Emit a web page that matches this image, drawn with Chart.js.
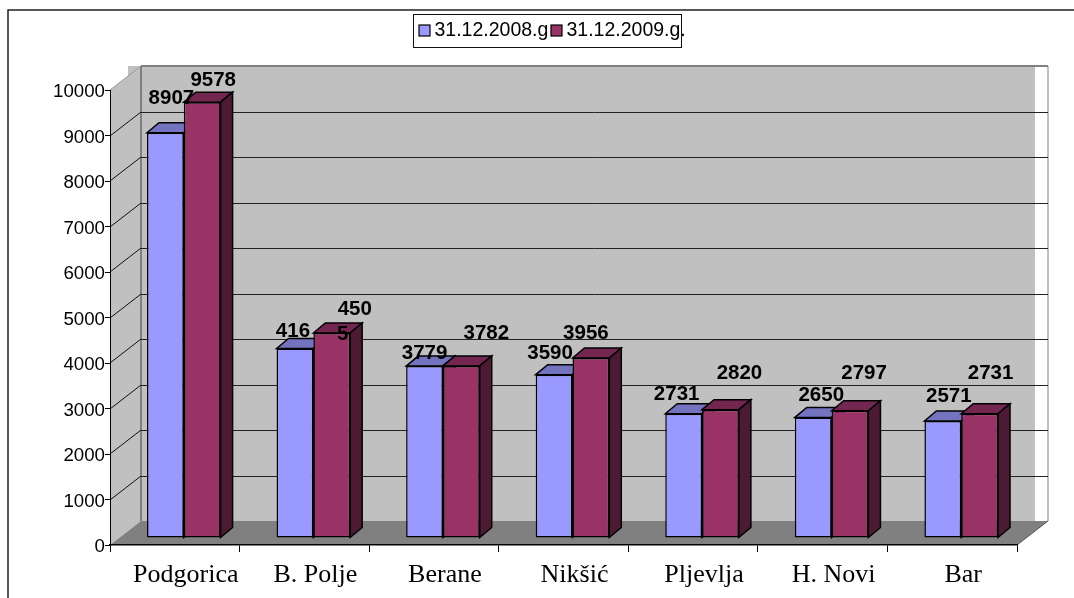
<!DOCTYPE html>
<html>
<head>
<meta charset="utf-8">
<style>
  html, body { margin: 0; padding: 0; background: #fff; }
  #wrap { position: relative; width: 1074px; height: 598px; }
  #wrap canvas { display: block; }
</style>
<script src="https://cdn.jsdelivr.net/npm/chart.js@4"></script>
</head>
<body>
<div id="wrap"><canvas id="chart"></canvas></div>
<script>
const categories = ["Podgorica", "B. Polje", "Berane", "Nikšić", "Pljevlja", "H. Novi", "Bar"];
const seriesNames = ["31.12.2008.g", "31.12.2009.g."];
const values2008 = [8907, 4165, 3779, 3590, 2731, 2650, 2571];
const values2009 = [9578, 4505, 3782, 3956, 2820, 2797, 2731];
const yTicks = [0, 1000, 2000, 3000, 4000, 5000, 6000, 7000, 8000, 9000, 10000];

// labels as they appear in the picture, some are cut or wrapped
const labels2008 = ["8907", "416", "3779", "3590", "2731", "2650", "2571"];
const labels2009 = ["9578", "450\n5", "3782", "3956", "2820", "2797", "2731"];

// the value labels sit unevenly, nudge each one from its bar top
const labelNudge = [
  { x: [6, -2, 0, -4, -7, 8, 6], y: [-34, -17, -13, -21, -19, -22, -25] },
  { x: [11, 23, 25, -5, 19, 14, 11], y: [-22, -24, -33, -25, -36, -37, -40] }
];

// 3D look
const wallDx = 31, wallDy = -24;
const barShiftX = 9, barShiftY = -7;
const barDx = 12, barDy = -10;
const sideColors = [
  { top: "#7373bf", side: "#4d4d80" },
  { top: "#732650", side: "#4d1a33" }
];

function poly(ctx, pts, fill, stroke, lw) {
  ctx.beginPath();
  pts.forEach((p, i) => (i ? ctx.lineTo(p[0], p[1]) : ctx.moveTo(p[0], p[1])));
  ctx.closePath();
  if (fill) { ctx.fillStyle = fill; ctx.fill(); }
  if (stroke) { ctx.strokeStyle = stroke; ctx.lineWidth = lw || 1; ctx.stroke(); }
}

function line(ctx, x1, y1, x2, y2, color, lw) {
  ctx.beginPath();
  ctx.moveTo(x1, y1);
  ctx.lineTo(x2, y2);
  ctx.strokeStyle = color;
  ctx.lineWidth = lw || 1;
  ctx.stroke();
}

const walls = {
  id: "walls",
  beforeDraw(chart) {
    const ctx = chart.ctx;
    const { left, right, top, bottom } = chart.chartArea;
    const y = chart.scales.y;
    const backL = left + wallDx, backR = right + wallDx;
    const backT = top + wallDy, backB = bottom + wallDy;
    ctx.save();

    // outer frame, only left and top are in the picture
    ctx.strokeStyle = "#222";
    ctx.lineWidth = 1.5;
    ctx.beginPath();
    ctx.moveTo(8, 598);
    ctx.lineTo(8, 10);
    ctx.lineTo(1074, 10);
    ctx.stroke();

    // wall fill stops short of the right edge and pokes out on the left
    ctx.fillStyle = "#c0c0c0";
    ctx.fillRect(backL - 13, backT, backR - backL, backB - backT);
    poly(ctx, [[left, top], [backL, backT], [backL, backB], [left, bottom]], "#c0c0c0");

    // wall edges
    line(ctx, left, top, backL, backT, "#999", 1);
    line(ctx, backL, backT, backR, backT, "#808080", 2);
    line(ctx, backL, backT, backL, backB, "#808080", 2);
    line(ctx, backR, backT, backR, backB, "#808080", 1);

    // gridlines on the back wall and down the side wall
    yTicks.forEach((v) => {
      if (v === 0 || v === 10000) return;
      const py = Math.round(y.getPixelForValue(v));
      line(ctx, left, py, backL, py + wallDy, "#111", 1);
      line(ctx, backL, py + wallDy + 0.5, backR, py + wallDy + 0.5, "#222", 1);
    });

    // floor
    poly(ctx, [[left, bottom], [backL, backB], [backR, backB], [right, bottom]], "#808080");
    line(ctx, right, bottom, backR, backB, "#555", 1);
    ctx.restore();
  }
};

const bars3d = {
  id: "bars3d",
  // chart.js draws the first dataset last, here the second one has to end up on top
  beforeDatasetsDraw(chart) {
    const ctx = chart.ctx;
    ctx.save();
    ctx.translate(barShiftX, barShiftY);
    chart.data.datasets.forEach((ds, i) => {
      const meta = chart.getDatasetMeta(i);
      const c = sideColors[i];
      meta.data.forEach((bar) => {
        const l = bar.x - bar.width / 2, r = bar.x + bar.width / 2;
        poly(ctx, [[l, bar.y], [l + barDx, bar.y + barDy], [r + barDx, bar.y + barDy], [r, bar.y]], c.top, "#000", 1.5);
        poly(ctx, [[r, bar.y], [r + barDx, bar.y + barDy], [r + barDx, bar.base + barDy], [r, bar.base]], c.side, "#000", 1.5);
      });
      meta.controller.draw();
    });
    ctx.restore();

    // value labels
    ctx.save();
    ctx.font = "bold 20.5px 'Liberation Sans', Arial, sans-serif";
    ctx.fillStyle = "#000";
    ctx.textAlign = "center";
    ctx.textBaseline = "middle";
    chart.data.datasets.forEach((ds, i) => {
      chart.getDatasetMeta(i).data.forEach((bar, j) => {
        const cx = bar.x + barShiftX + labelNudge[i].x[j];
        const cy = bar.y + barShiftY + labelNudge[i].y[j];
        ds.valueLabels[j].split("\n").forEach((t, k) => {
          if (k === 0) ctx.fillText(t, cx, cy);
          else ctx.fillText(t, cx - 12, cy + 25);
        });
      });
    });
    ctx.restore();
    return false;
  }
};

// legend box, drawn here because the marker to text gap is tighter than the built in one
const legendBox = {
  id: "legendBox",
  afterDraw(chart) {
    const ctx = chart.ctx;
    ctx.save();
    ctx.fillStyle = "#fff";
    ctx.fillRect(413, 14, 269, 33);
    ctx.strokeStyle = "#111";
    ctx.lineWidth = 1;
    ctx.strokeRect(413.5, 14.5, 268, 33);
    ctx.font = "19.5px 'Liberation Sans', Arial, sans-serif";
    ctx.textBaseline = "middle";
    ctx.textAlign = "left";
    const markerX = [419, 551];
    chart.data.datasets.forEach((ds, i) => {
      ctx.fillStyle = ds.backgroundColor;
      ctx.fillRect(markerX[i], 25, 11, 11);
      ctx.strokeStyle = "#000";
      ctx.lineWidth = 1.2;
      ctx.strokeRect(markerX[i], 25, 11, 11);
      ctx.fillStyle = "#000";
      ctx.fillText(ds.label, markerX[i] + 15.5, 31);
    });
    ctx.restore();
  }
};

const chart = new Chart(document.getElementById("chart"), {
  type: "bar",
  data: {
    labels: categories,
    datasets: [
      {
        label: seriesNames[0],
        data: values2008,
        valueLabels: labels2008,
        backgroundColor: "#9999ff",
        borderColor: "#000",
        borderWidth: 1.5,
        borderSkipped: false,
        categoryPercentage: 0.568,
        barPercentage: 1
      },
      {
        label: seriesNames[1],
        data: values2009,
        valueLabels: labels2009,
        backgroundColor: "#993366",
        borderColor: "#000",
        borderWidth: 1.5,
        borderSkipped: false,
        categoryPercentage: 0.568,
        barPercentage: 1
      }
    ]
  },
  options: {
    responsive: true,
    maintainAspectRatio: false,
    animation: false,
    layout: { padding: { top: 90, right: 57, bottom: 0, left: 0 } },
    plugins: {
      legend: { display: false },
      tooltip: { enabled: false }
    },
    scales: {
      x: {
        afterFit: (s) => { s.height = 53; },
        border: { color: "#000", width: 1.5 },
        grid: { drawOnChartArea: false, color: "#000", tickLength: 7 },
        ticks: {
          color: "#000",
          padding: 8,
          labelOffset: 11,
          maxRotation: 0,
          autoSkip: false,
          font: { family: "'Liberation Serif', 'Times New Roman', serif", size: 26 }
        }
      },
      y: {
        min: 0,
        max: 10000,
        afterFit: (s) => { s.width = 110; },
        afterBuildTicks: (s) => { s.ticks = yTicks.map((v) => ({ value: v })); },
        border: { color: "#000", width: 1 },
        grid: { drawOnChartArea: false, color: "#000", tickLength: 5 },
        ticks: {
          color: "#000",
          padding: 0,
          labelOffset: 2,
          callback: (v) => String(v),
          font: { family: "'Liberation Sans', Arial, sans-serif", size: 18.7 }
        }
      }
    }
  },
  plugins: [walls, bars3d, legendBox]
});
</script>
</body>
</html>
